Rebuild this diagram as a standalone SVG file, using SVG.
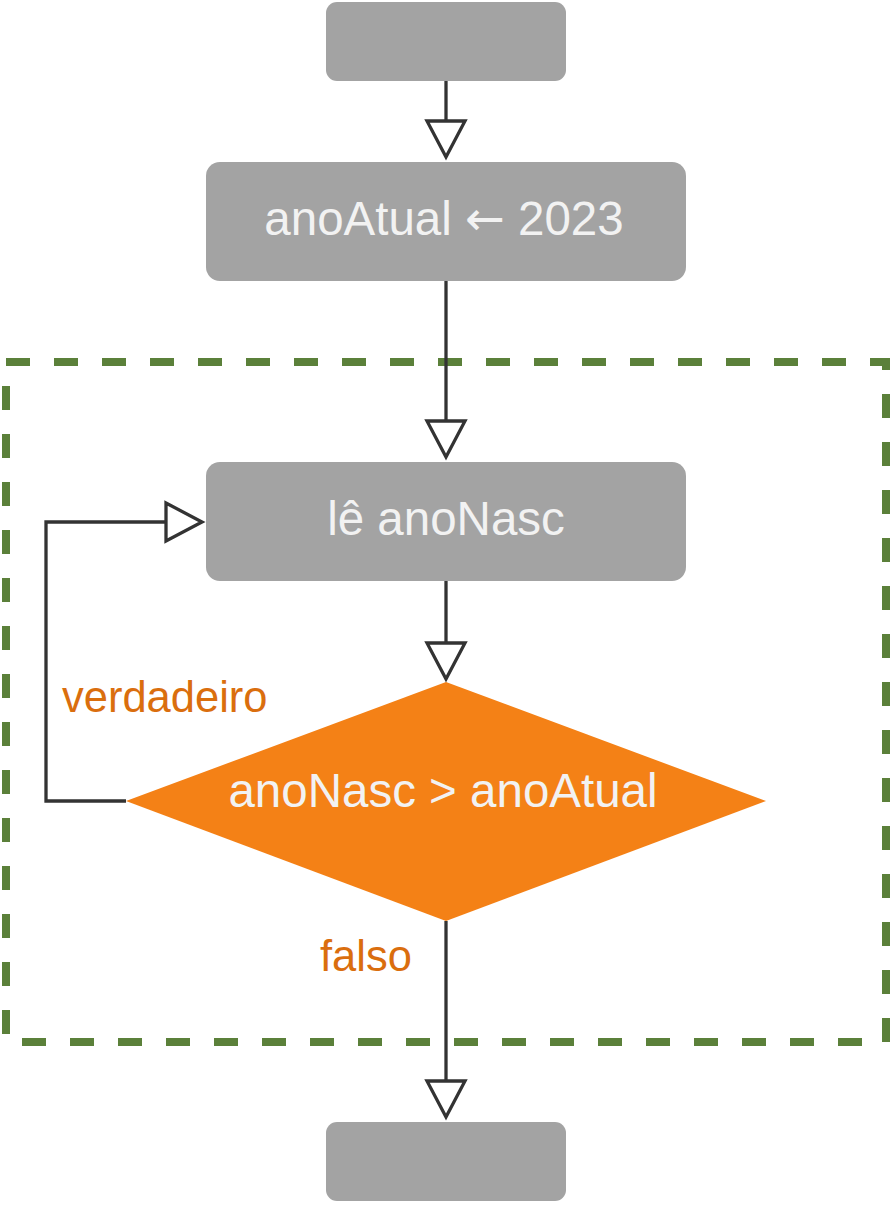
<svg xmlns="http://www.w3.org/2000/svg" width="892" height="1208" viewBox="0 0 892 1208">
  <style>
    .box { fill: #a3a3a3; }
    .txt { font-family: "Liberation Sans", Arial, sans-serif; font-size: 47.5px; fill: #f2f2f2; text-anchor: middle; }
    .arr { font-family: "DejaVu Sans", sans-serif; }
    .lbl { font-family: "Liberation Sans", Arial, sans-serif; font-size: 43.5px; fill: #da6e0e; }
    .conn { fill: none; stroke: #333333; stroke-width: 3.3; }
    .head { fill: #ffffff; stroke: #333333; stroke-width: 3.3; stroke-linejoin: miter; }
  </style>
  <rect width="892" height="1208" fill="#ffffff"/>
  <g id="loop-region">
    <rect x="6" y="362" width="880" height="680" fill="none" stroke="#5b803a" stroke-width="8" stroke-dasharray="24 24"/>
  </g>
  <g id="start">
    <rect class="box" x="326" y="2" width="240" height="79" rx="11"/>
  </g>
  <g id="assign">
    <rect class="box" x="206" y="162" width="480" height="119" rx="14"/>
    <text class="txt" x="444" y="235">anoAtual <tspan class="arr">←</tspan> 2023</text>
  </g>
  <g id="read">
    <rect class="box" x="206" y="462" width="480" height="119" rx="14"/>
    <text class="txt" x="446" y="535">lê anoNasc</text>
  </g>
  <g id="decision">
    <polygon points="446,682 766,801 446,921 126,801" fill="#f48116"/>
    <text class="txt" x="443" y="807">anoNasc &gt; anoAtual</text>
  </g>
  <g id="end">
    <rect class="box" x="326" y="1122" width="240" height="79" rx="11"/>
  </g>
  <g id="connectors">
    <line class="conn" x1="446" y1="81" x2="446" y2="121"/>
    <polygon class="head" points="427,121 465,121 446,157"/>
    <line class="conn" x1="446" y1="281" x2="446" y2="421"/>
    <polygon class="head" points="427,421 465,421 446,457"/>
    <line class="conn" x1="446" y1="581" x2="446" y2="643"/>
    <polygon class="head" points="427,643 465,643 446,679"/>
    <line class="conn" x1="446" y1="921" x2="446" y2="1081"/>
    <polygon class="head" points="427,1081 465,1081 446,1117"/>
    <polyline class="conn" points="126,801 46,801 46,522 166,522"/>
    <polygon class="head" points="166,503 166,541 202,522"/>
    <text class="lbl" x="62" y="712">verdadeiro</text>
    <text class="lbl" x="320" y="971">falso</text>
  </g>
</svg>
